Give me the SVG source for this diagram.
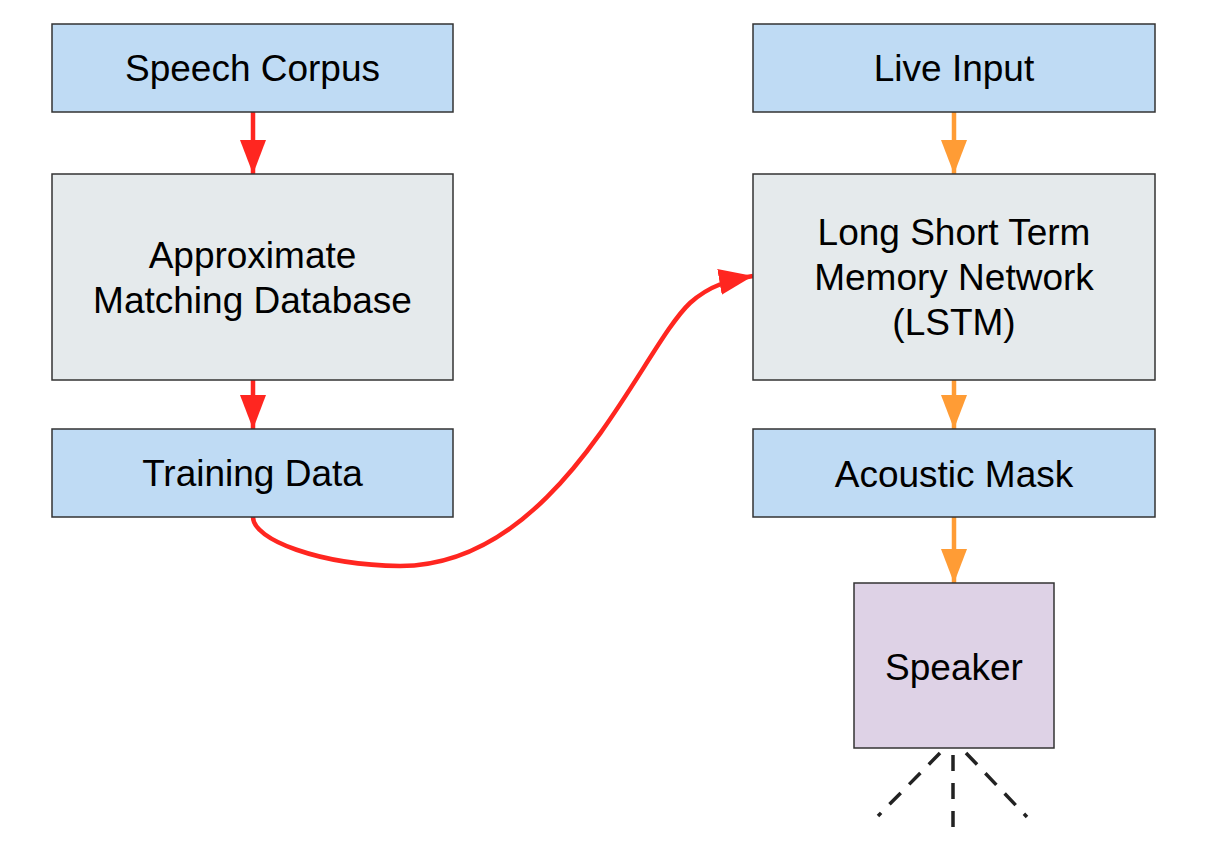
<svg xmlns="http://www.w3.org/2000/svg" width="1208" height="850" viewBox="0 0 1208 850">
<style>
.box{stroke:#333;stroke-width:1.5}
.blue{fill:#bfdbf4}
.gray{fill:#e5eaec}
.purple{fill:#ded2e6}
text{font-family:"Liberation Sans",Arial,sans-serif;font-size:37px;fill:#000;text-anchor:middle}
.red{stroke:#ff2620;stroke-width:4.5;fill:none}
.orange{stroke:#ff9c35;stroke-width:4.5;fill:none}
.dash{stroke:#222;stroke-width:3.5;stroke-dasharray:16 12;fill:none}
</style>
<defs>
<marker id="ar" markerUnits="userSpaceOnUse" markerWidth="36" markerHeight="28" refX="34" refY="13" orient="auto"><path d="M0,0 L34,13 L0,26 Z" fill="#ff2620"/></marker>
<marker id="ao" markerUnits="userSpaceOnUse" markerWidth="36" markerHeight="28" refX="34" refY="13" orient="auto"><path d="M0,0 L34,13 L0,26 Z" fill="#ff9c35"/></marker>
</defs>
<g id="connectors">
<path class="red" d="M253,112 L253,174" marker-end="url(#ar)"/>
<path class="red" d="M253,380 L253,429" marker-end="url(#ar)"/>
<path class="red" d="M253,517 C253,540 320,565 400,566 C560,566 640,350 690,303 C710,285 730,280 753,276" marker-end="url(#ar)"/>
<path class="orange" d="M954,112 L954,174" marker-end="url(#ao)"/>
<path class="orange" d="M954,380 L954,429" marker-end="url(#ao)"/>
<path class="orange" d="M954,517 L954,583" marker-end="url(#ao)"/>
<path class="dash" d="M940,753 L878,816"/>
<path class="dash" d="M953,755 L953,834"/>
<path class="dash" d="M966,753 L1027,817"/>
</g>
<g id="speech-corpus"><rect class="box blue" x="52" y="24" width="401" height="88"/><text x="252.5" y="81">Speech Corpus</text></g>
<g id="approx-db"><rect class="box gray" x="52" y="174" width="401" height="206"/><text x="252.5" y="268">Approximate</text><text x="252.5" y="313">Matching Database</text></g>
<g id="training-data"><rect class="box blue" x="52" y="429" width="401" height="88"/><text x="252.5" y="486">Training Data</text></g>
<g id="live-input"><rect class="box blue" x="753" y="24" width="402" height="88"/><text x="954" y="81">Live Input</text></g>
<g id="lstm"><rect class="box gray" x="753" y="174" width="402" height="206"/><text x="954" y="245">Long Short Term</text><text x="954" y="290">Memory Network</text><text x="954" y="335">(LSTM)</text></g>
<g id="acoustic-mask"><rect class="box blue" x="753" y="429" width="402" height="88"/><text x="954" y="487">Acoustic Mask</text></g>
<g id="speaker"><rect class="box purple" x="854" y="583" width="200" height="165"/><text x="954" y="680">Speaker</text></g>
</svg>
